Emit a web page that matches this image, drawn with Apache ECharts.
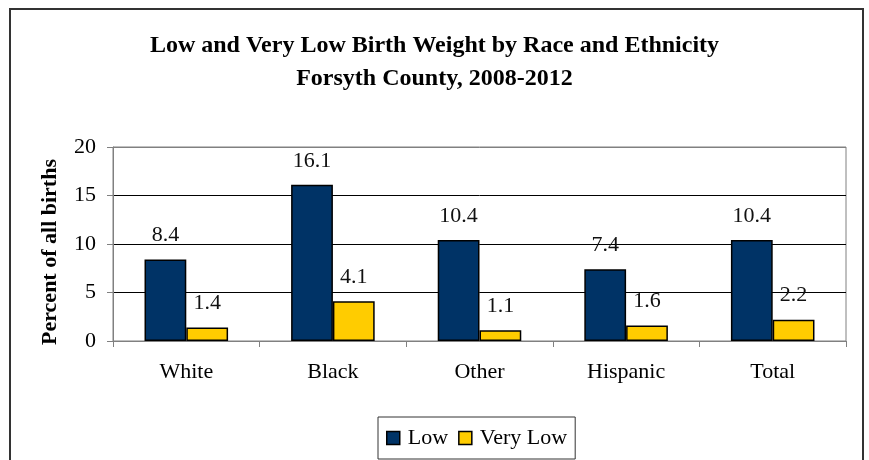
<!DOCTYPE html>
<html>
<head>
<meta charset="utf-8">
<style>
  html, body { margin: 0; padding: 0; background: #fff; }
  #chart { width: 869px; height: 460px; }
</style>
<script src="https://cdn.jsdelivr.net/npm/echarts@6/dist/echarts.min.js"></script>
</head>
<body>
<div id="chart"></div>
<script>
// Birth weight percentages by race / ethnicity, Forsyth County 2008-2012
const categories = ['White', 'Black', 'Other', 'Hispanic', 'Total'];
const lowValues = [8.4, 16.1, 10.4, 7.4, 10.4];
const veryLowValues = [1.4, 4.1, 1.1, 1.6, 2.2];
const seriesNames = ['Low', 'Very Low'];

const serif = '"Liberation Serif", "Times New Roman", serif';

const chart = echarts.init(document.getElementById('chart'));

function barSeries(name, values, color) {
  return {
    name: name,
    type: 'bar',
    data: values,
    barGap: '0%',
    barCategoryGap: '43%',
    itemStyle: { color: color, borderColor: '#000', borderWidth: 1.5 },
    label: {
      show: true,
      position: 'top',
      distance: 13,
      color: '#111',
      fontFamily: serif,
      fontSize: 22,
      formatter: p => p.value.toFixed(1)
    }
  };
}

chart.setOption({
  animation: false,
  backgroundColor: '#fff',
  title: {
    text: 'Low and Very Low Birth Weight by Race and Ethnicity\nForsyth County, 2008-2012',
    left: 'center',
    top: 24,
    textStyle: {
      fontFamily: serif,
      fontWeight: 'bold',
      fontSize: 24,
      lineHeight: 33,
      color: '#000'
    }
  },
  graphic: [{
    type: 'rect',
    shape: { x: 10, y: 9, width: 853, height: 470 },
    style: { fill: 'none', stroke: '#333', lineWidth: 2 },
    silent: true
  }],
  legend: {
    data: seriesNames,
    bottom: 1,
    left: 378,
    itemWidth: 13,
    itemHeight: 13,
    itemGap: 10,
    padding: [10, 8, 10, 8],
    borderColor: '#333',
    borderWidth: 1,
    icon: 'rect',
    itemStyle: { borderColor: '#000', borderWidth: 1.5 },
    textStyle: { fontFamily: serif, fontSize: 22, color: '#000', padding: [0, 0, 0, 3] }
  },
  grid: {
    left: 113,
    right: 23,
    top: 147,
    bottom: 119,
    show: true,
    borderColor: '#808080',
    borderWidth: 1
  },
  xAxis: {
    type: 'category',
    data: categories,
    axisLine: { lineStyle: { color: '#808080', width: 1 } },
    axisTick: { show: true, length: 6, lineStyle: { color: '#808080' } },
    axisLabel: {
      margin: 20,
      fontFamily: serif,
      fontSize: 22,
      color: '#000'
    }
  },
  yAxis: {
    type: 'value',
    min: 0,
    max: 20,
    interval: 5,
    name: 'Percent of all births',
    nameLocation: 'middle',
    nameGap: 52,
    nameTextStyle: {
      fontFamily: serif,
      fontWeight: 'bold',
      fontSize: 22,
      color: '#000',
      padding: [0, 16, 0, 0]
    },
    axisLine: { show: true, lineStyle: { color: '#808080', width: 1 } },
    axisTick: { show: true, length: 6, lineStyle: { color: '#808080' } },
    axisLabel: {
      margin: 17,
      fontFamily: serif,
      fontSize: 22,
      color: '#000'
    },
    splitLine: {
      lineStyle: { color: ['#808080', '#000', '#000', '#000', '#808080'], width: 1 }
    }
  },
  series: [
    barSeries(seriesNames[0], lowValues, '#003366'),
    barSeries(seriesNames[1], veryLowValues, '#FFCC00')
  ]
});
</script>
</body>
</html>
